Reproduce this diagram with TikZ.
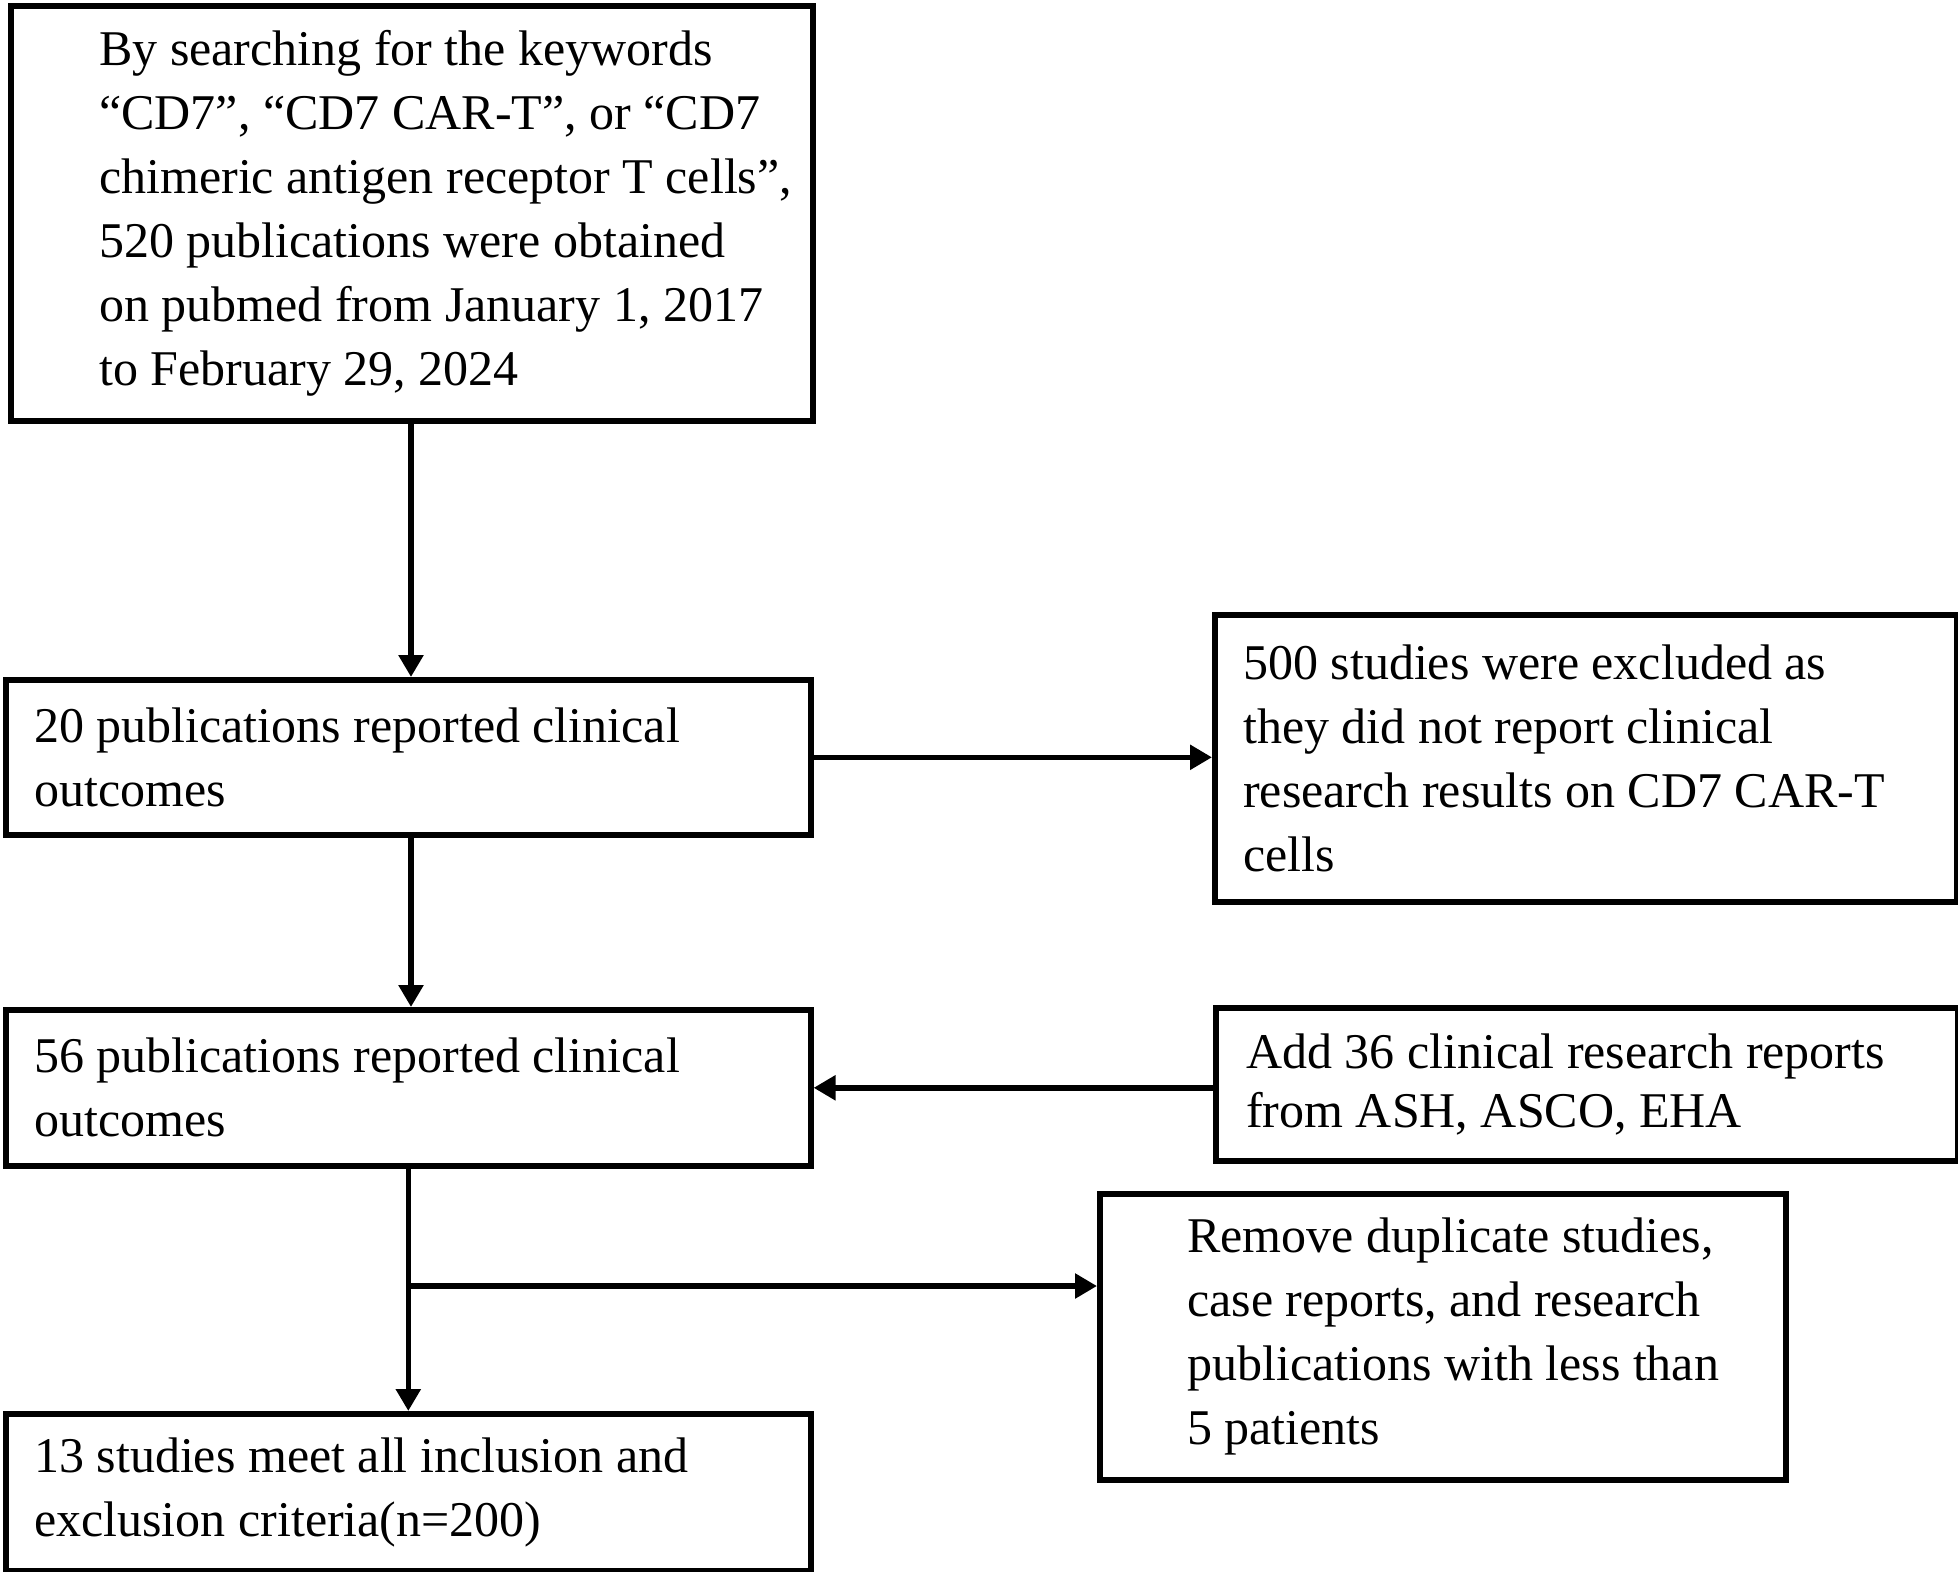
\documentclass[tikz,border=0pt]{standalone}
\usepackage{fontspec}
\setmainfont{Liberation Serif}
\usetikzlibrary{arrows.meta}
\begin{document}
\begin{tikzpicture}[x=1pt,y=-1pt,
  box/.style={draw=black,line width=5.6pt,rectangle,inner sep=0pt,anchor=north west},
  txt/.style={anchor=west,align=left,inner sep=0pt,font=\fontsize{50}{64}\selectfont},
  txtb/.style={anchor=west,align=left,inner sep=0pt,font=\fontsize{50}{59}\selectfont},
  arr/.style={line width=5.6pt,-{Triangle[length=22pt,width=24pt]}}]
\useasboundingbox (0,0) rectangle (1958,1571);
\fill[white] (0,0) rectangle (1958,1571);
% boxes
\node[box,minimum width=802pt,minimum height=415pt] (b1) at (8,3) {};
\node[box,minimum width=805pt,minimum height=155pt] (b2) at (3,677) {};
\node[box,minimum width=742pt,minimum height=287pt] (b3) at (1212,612) {};
\node[box,minimum width=805pt,minimum height=156pt] (b4) at (3,1007) {};
\node[box,minimum width=742pt,minimum height=153pt] (b5) at (1213,1005) {};
\node[box,minimum width=686pt,minimum height=286pt] (b6) at (1097,1191) {};
\node[box,minimum width=805pt,minimum height=157pt] (b7) at (3,1411) {};
% texts
\node[txt] (t1) at ([xshift=91pt]b1.west) {By searching for the keywords\\“CD7”, “CD7 CAR-T”, or “CD7\\chimeric antigen receptor T cells”,\\520 publications were obtained\\on pubmed from January 1, 2017\\to February 29, 2024};
\node[txt] (t2) at ([xshift=31pt]b2.west) {20 publications reported clinical\\outcomes};
\node[txt] (t3) at ([xshift=31pt]b3.west) {500 studies were excluded as\\they did not report clinical\\research results on CD7 CAR-T\\cells};
\node[txt] (t4) at ([xshift=31pt]b4.west) {56 publications reported clinical\\outcomes};
\node[txtb] (t5) at ([xshift=33pt]b5.west) {Add 36 clinical research reports\\from ASH, ASCO, EHA};
\node[txt] (t6) at ([xshift=90pt]b6.west) {Remove duplicate studies,\\case reports, and research\\publications with less than\\5 patients};
\node[txt] (t7) at ([xshift=31pt]b7.west) {13 studies meet all inclusion and\\exclusion criteria(n=200)};
% connectors
\coordinate (c1) at (411,418);
\coordinate (c2) at (411,832);
\coordinate (br) at (411,1286);
\draw[arr] (c1) -- (c1 |- b2.north);
\draw[arr] (c2) -- (c2 |- b4.north);
\draw[arr] (b2.east) -- (b2.east -| b3.west);
\draw[arr] (b5.west |- b4.east) -- (b4.east);
\draw[arr] (b4.south) -- (b7.north);
\draw[arr] (br) -- (br -| b6.west);
\end{tikzpicture}
\end{document}
